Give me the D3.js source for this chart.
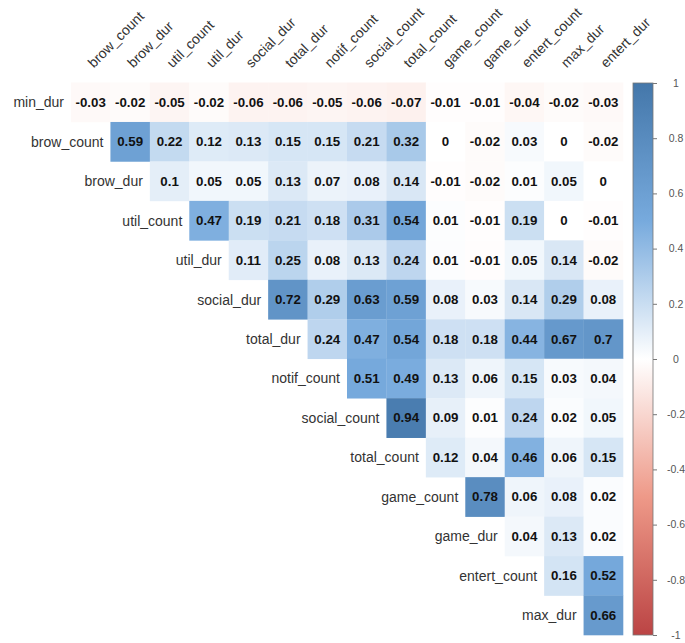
<!DOCTYPE html>
<html>
<head>
<meta charset="utf-8">
<script src="https://cdn.jsdelivr.net/npm/d3@7"></script>
<style>
  html, body { margin: 0; padding: 0; background: #fff; }
  svg { display: block; }
</style>
</head>
<body>
<svg id="chart" width="685" height="643"></svg>
<script>
// Variables (rows use vars[0..13], columns use vars[1..14])
const rowVars = ["min_dur","brow_count","brow_dur","util_count","util_dur","social_dur","total_dur","notif_count","social_count","total_count","game_count","game_dur","entert_count","max_dur"];
const colVars = ["brow_count","brow_dur","util_count","util_dur","social_dur","total_dur","notif_count","social_count","total_count","game_count","game_dur","entert_count","max_dur","entert_dur"];

// Upper-triangle correlations; row i starts at column i
const r_min_dur      = [-0.03,-0.02,-0.05,-0.02,-0.06,-0.06,-0.05,-0.06,-0.07,-0.01,-0.01,-0.04,-0.02,-0.03];
const r_brow_count   = [0.59,0.22,0.12,0.13,0.15,0.15,0.21,0.32,0,-0.02,0.03,0,-0.02];
const r_brow_dur     = [0.1,0.05,0.05,0.13,0.07,0.08,0.14,-0.01,-0.02,0.01,0.05,0];
const r_util_count   = [0.47,0.19,0.21,0.18,0.31,0.54,0.01,-0.01,0.19,0,-0.01];
const r_util_dur     = [0.11,0.25,0.08,0.13,0.24,0.01,-0.01,0.05,0.14,-0.02];
const r_social_dur   = [0.72,0.29,0.63,0.59,0.08,0.03,0.14,0.29,0.08];
const r_total_dur    = [0.24,0.47,0.54,0.18,0.18,0.44,0.67,0.7];
const r_notif_count  = [0.51,0.49,0.13,0.06,0.15,0.03,0.04];
const r_social_count = [0.94,0.09,0.01,0.24,0.02,0.05];
const r_total_count  = [0.12,0.04,0.46,0.06,0.15];
const r_game_count   = [0.78,0.06,0.08,0.02];
const r_game_dur     = [0.04,0.13,0.02];
const r_entert_count = [0.16,0.52];
const r_max_dur      = [0.66];
const rowValues = [r_min_dur,r_brow_count,r_brow_dur,r_util_count,r_util_dur,r_social_dur,r_total_dur,r_notif_count,r_social_count,r_total_count,r_game_count,r_game_dur,r_entert_count,r_max_dur];

const legendTicks = [1,0.8,0.6,0.4,0.2,0,-0.2,-0.4,-0.6,-0.8,-1];
const paletteStops = [-1,-0.5,0,0.5,1];
const paletteColors = ["#BB4444","#EE9988","#FFFFFF","#77AADD","#4477AA"];

// Build cell list
const cells = [];
rowValues.forEach((vals, i) => {
  vals.forEach((v, k) => {
    cells.push({ row: rowVars[i], col: colVars[i + k], value: v });
  });
});

const svg = d3.select("#chart");
const gridLeft = 71, gridRight = 623, gridTop = 82.5, gridBottom = 635;

const x = d3.scaleBand().domain(colVars).range([gridLeft, gridRight]).padding(0);
const y = d3.scaleBand().domain(rowVars).range([gridTop, gridBottom]).padding(0);
const color = d3.scaleLinear().domain(paletteStops).range(paletteColors).interpolate(d3.interpolateRgb).clamp(true);

const font = "'Liberation Sans', Arial, sans-serif";

// cells
svg.append("g").selectAll("rect").data(cells).join("rect")
  .attr("x", d => x(d.col))
  .attr("y", d => y(d.row))
  .attr("width", x.bandwidth() + 0.3)
  .attr("height", y.bandwidth() + 0.3)
  .attr("fill", d => color(d.value));

// coefficient labels
const fmt = v => (v === 0 ? "0" : String(v));
svg.append("g").selectAll("text").data(cells).join("text")
  .attr("x", d => x(d.col) + x.bandwidth() / 2)
  .attr("y", d => y(d.row) + y.bandwidth() / 2)
  .attr("text-anchor", "middle")
  .attr("dominant-baseline", "central")
  .attr("font-family", font)
  .attr("font-weight", "bold")
  .attr("font-size", 13.3)
  .attr("fill", "#111")
  .text(d => fmt(d.value));

// row labels
svg.append("g").selectAll("text").data(rowVars).join("text")
  .attr("x", (d, i) => x(colVars[i]) - 7)
  .attr("y", d => y(d) + y.bandwidth() / 2)
  .attr("text-anchor", "end")
  .attr("dominant-baseline", "central")
  .attr("font-family", font)
  .attr("font-size", 14)
  .attr("fill", "#333")
  .text(d => d);

// column labels (rotated)
svg.append("g").selectAll("text").data(colVars).join("text")
  .attr("transform", d => `translate(${x(d) + x.bandwidth() / 2 + 3},${gridTop - 14}) rotate(-45)`)
  .attr("text-anchor", "start")
  .attr("font-family", font)
  .attr("font-size", 14)
  .attr("fill", "#333")
  .text(d => d);

// color legend
const legX = 633, legW = 20, legTop = 83, legBottom = 635;
const ly = d3.scaleLinear().domain([-1, 1]).range([legBottom, legTop]);
const defs = svg.append("defs");
const grad = defs.append("linearGradient").attr("id", "legendGrad")
  .attr("x1", 0).attr("y1", 1).attr("x2", 0).attr("y2", 0);
paletteStops.forEach((s, i) => {
  grad.append("stop").attr("offset", (s + 1) / 2).attr("stop-color", paletteColors[i]);
});
svg.append("rect")
  .attr("x", legX).attr("y", legTop)
  .attr("width", legW).attr("height", legBottom - legTop)
  .attr("fill", "url(#legendGrad)")
  .attr("stroke", "#777").attr("stroke-width", 0.8);

const legAxis = d3.axisRight(ly).tickValues(legendTicks).tickSize(4).tickFormat(d => String(d));
const ag = svg.append("g").attr("transform", `translate(${legX + legW},0)`).call(legAxis);
ag.select(".domain").remove();
ag.selectAll(".tick line").attr("stroke", "#777");
ag.selectAll(".tick text")
  .attr("x", 23)
  .attr("text-anchor", "middle")
  .attr("font-family", font)
  .attr("font-size", 10.5)
  .attr("fill", "#555");
</script>
</body>
</html>
